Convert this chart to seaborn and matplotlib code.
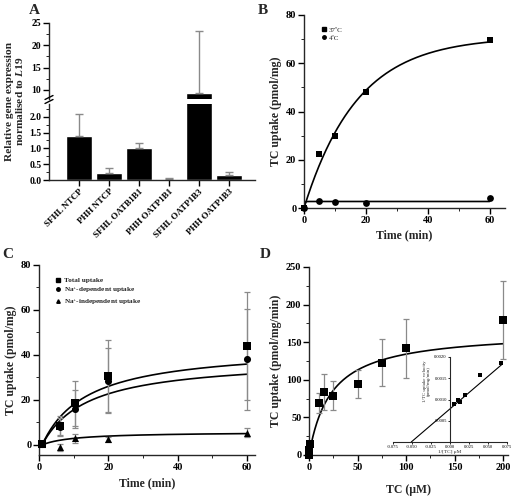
import numpy as np
import matplotlib
matplotlib.use("Agg")
import matplotlib.pyplot as plt
from matplotlib.lines import Line2D
from matplotlib.ticker import MultipleLocator
import seaborn as sns

# ---- data ----
# panel A
genes = ["SFHL NTCP", "PHH NTCP", "SFHL OATB1B1", "PHH OATP1B1", "SFHL OATP1B3", "PHH OATP1B3"]
expr = [1.40, 0.22, 1.02, 0.04, 9.4, 0.15]
expr_top = [2.10, 0.38, 1.17, 0.07, 23.2, 0.25]

# panel B
time_b = [0, 5, 10, 20, 60]
uptake_37 = [0, 22.5, 30.0, 48.0, 69.5]
uptake_4 = [0, 3.0, 2.5, 2.0, 4.0]
fit_37 = (71.0, 0.058)   # plateau, rate
fit_4 = (2.7, 5.0)

# panel C
time_c = [1, 6, 10.5, 20, 60]
total = [0.5, 8.5, 18.5, 30.5, 44.0]
total_err = [0.5, 4.5, 10.0, 16.0, 24.0]
na_dep = [0.3, 8.0, 16.0, 28.5, 38.0]
na_dep_err = [0.5, 3.8, 8.5, 14.5, 22.5]
na_indep = [0.2, -1.0, 3.0, 2.5, 5.5]
na_indep_err = [0.3, 1.5, 2.0, 1.2, 2.0]
fit_total = (43.9, 13.1)   # Vmax, K
fit_dep = (38.5, 13.3)
fit_indep = (5.8, 9.2)

# panel D
conc = [0.1, 0.5, 1, 10, 15, 25, 50, 75, 100, 200]
rate = [0, 6, 15, 69, 84, 79, 94, 123, 142, 180]
rate_lo = [0, 0, 0, 56, 60, 60, 76, 92, 103, 127]
rate_hi = [0, 0, 0, 83, 108, 99, 113, 154, 181, 232]
mm_fit = (165.0, 23.0)

# inset (Lineweaver-Burk)
inv_conc = [0.005, 0.010, 0.013, 0.020, 0.040, 0.067]
inv_rate = [0.00090, 0.00100, 0.00095, 0.00110, 0.00157, 0.00185]
lb_fit = (0.0153, 0.00078)   # slope, intercept

# ---- style ----
sns.set_style("ticks")
plt.rcParams["font.family"] = ["Liberation Serif", "DejaVu Serif"]
plt.rcParams["font.weight"] = "bold"
plt.rcParams["axes.labelweight"] = "bold"
plt.rcParams["mathtext.fontset"] = "custom"
plt.rcParams["mathtext.rm"] = "Liberation Serif:bold"
plt.rcParams["mathtext.it"] = "Liberation Serif:italic:bold"
plt.rcParams["axes.linewidth"] = 1.0
plt.rcParams["xtick.major.width"] = 1.0
plt.rcParams["ytick.major.width"] = 1.0
plt.rcParams["xtick.major.size"] = 4
plt.rcParams["ytick.major.size"] = 4
plt.rcParams["xtick.minor.size"] = 2
plt.rcParams["ytick.minor.size"] = 2
plt.rcParams["xtick.color"] = "black"
plt.rcParams["ytick.color"] = "black"

W, H = 511, 496
fig = plt.figure(figsize=(W / 100, H / 100), dpi=100)


def rect(l, t, r, b):
    return [l / W, 1 - b / H, (r - l) / W, (b - t) / H]


TICK = 7.5
LAB = 8.5
GREY = "#8a8a8a"


def style(ax, size=TICK):
    sns.despine(ax=ax)
    ax.tick_params(labelsize=size, pad=1.5)
    for t in ax.get_xticklabels() + ax.get_yticklabels():
        t.set_fontweight("bold")


# ---------------- A ----------------
axA_hi = fig.add_axes(rect(49, 23, 255, 98.8))
axA_lo = fig.add_axes(rect(49, 104, 255, 180))
xpos = np.arange(len(genes))
for ax in (axA_hi, axA_lo):
    sns.barplot(x=xpos, y=expr, color="black", width=0.85, errorbar=None,
                native_scale=True, ax=ax, saturation=1)
    ax.errorbar(xpos, expr, yerr=[np.zeros(len(expr)), np.array(expr_top) - np.array(expr)],
                fmt="none", ecolor=GREY, elinewidth=1.0, capsize=3, capthick=1.0)
    ax.set_xlim(-1.0, 5.87)
axA_hi.set_ylim(8, 25)
axA_hi.set_yticks([10, 15, 20, 25])
axA_hi.yaxis.set_minor_locator(MultipleLocator(2.5))
axA_hi.set_xticks([])
axA_lo.set_ylim(0, 2.4)
axA_lo.set_yticks([0, 0.5, 1.0, 1.5, 2.0])
axA_lo.set_yticklabels(["0.0", "0.5", "1.0", "1.5", "2.0"])
axA_lo.yaxis.set_minor_locator(MultipleLocator(0.25))
axA_lo.set_xticks(xpos)
axA_lo.set_xticklabels(genes, rotation=45, ha="right", rotation_mode="anchor")
style(axA_hi, 7)
sns.despine(ax=axA_hi, bottom=True)
style(axA_lo, 7)
for t in axA_lo.get_xticklabels():
    t.set_fontsize(6.5)
# break marks
for yy in (97.5, 101.5):
    fig.add_artist(Line2D([45 / W, 53 / W], [1 - (yy + 2) / H, 1 - (yy - 2) / H],
                          color="black", lw=1.0))
fig.text(15 / W, 1 - 101 / H, "Relative gene expression\nnormalised to $\\mathit{L19}$",
         rotation=90, ha="center", va="center", fontsize=8.2, fontweight="bold",
         linespacing=1.05)
fig.text(34 / W, 1 - 10 / H, "A", fontsize=11, fontweight="bold", ha="center", va="center")

# ---------------- B ----------------
axB = fig.add_axes(rect(304, 15, 505, 208))
tt = np.linspace(0, 60, 200)
sns.lineplot(x=tt, y=fit_37[0] * (1 - np.exp(-fit_37[1] * tt)), color="black", lw=1.2, ax=axB)
sns.lineplot(x=tt, y=fit_4[0] * (1 - np.exp(-fit_4[1] * tt)), color="black", lw=1.2, ax=axB)
sns.scatterplot(x=time_b, y=uptake_37, marker="s", color="black", s=22, linewidth=0,
                ax=axB, clip_on=False, zorder=5)
sns.scatterplot(x=time_b, y=uptake_4, marker="o", color="black", s=24, linewidth=0,
                ax=axB, clip_on=False, zorder=5)
axB.set_xlim(0, 65)
axB.set_ylim(0, 80)
axB.set_xticks([0, 20, 40, 60])
axB.set_yticks([0, 20, 40, 60, 80])
axB.xaxis.set_minor_locator(MultipleLocator(10))
axB.yaxis.set_minor_locator(MultipleLocator(10))
axB.set_xlabel("Time (min)", fontsize=LAB, labelpad=3)
axB.set_ylabel("TC uptake (pmol/mg)", fontsize=LAB, labelpad=3)
style(axB)
hB = [Line2D([], [], marker="s", color="black", ls="", ms=2.5),
      Line2D([], [], marker="o", color="black", ls="", ms=2.5)]
axB.legend(hB, ["37ºC", "4ºC"], loc="upper left", bbox_to_anchor=(0.05, 0.97),
           frameon=False, prop={"size": 5, "weight": "normal"}, handletextpad=0.2,
           labelspacing=0.3, handlelength=1.0)
fig.text(263 / W, 1 - 10 / H, "B", fontsize=11, fontweight="bold", ha="center", va="center")

# ---------------- C ----------------
axC = fig.add_axes(rect(39, 265, 255, 455))
tc = np.linspace(1, 60, 200)
for vm, k in (fit_total, fit_dep, fit_indep):
    sns.lineplot(x=tc, y=vm * (tc - 0.9) / (k + tc - 0.9), color="black", lw=1.2, ax=axC)
for yv, ye, mk in ((total, total_err, "s"), (na_dep, na_dep_err, "o"), (na_indep, na_indep_err, "^")):
    axC.errorbar(time_c, yv, yerr=ye, fmt="none", ecolor=GREY, elinewidth=0.9,
                 capsize=2.5, capthick=0.9)
    sns.scatterplot(x=time_c, y=yv, marker=mk, color="black", s=26, linewidth=0,
                    ax=axC, clip_on=False, zorder=5)
axC.set_xlim(0, 62.3)
axC.set_ylim(-4.5, 80)
axC.set_xticks([0, 20, 40, 60])
axC.set_yticks([0, 20, 40, 60, 80])
axC.xaxis.set_minor_locator(MultipleLocator(10))
axC.yaxis.set_minor_locator(MultipleLocator(10))
axC.set_xlabel("Time (min)", fontsize=LAB, labelpad=4)
axC.set_ylabel("TC uptake (pmol/mg)", fontsize=LAB, labelpad=3)
style(axC)
hC = [Line2D([], [], marker=m, color="black", ls="", ms=2.5) for m in ("s", "o", "^")]
axC.legend(hC, ["Total uptake", "Na$^{+}$-dependent uptake", "Na$^{+}$-independent uptake"],
           loc="upper left", bbox_to_anchor=(0.04, 0.97), frameon=False,
           prop={"size": 5.2, "weight": "bold"}, handletextpad=0.4,
           labelspacing=0.25, handlelength=1.0)
fig.text(8 / W, 1 - 254 / H, "C", fontsize=11, fontweight="bold", ha="center", va="center")

# ---------------- D ----------------
axD = fig.add_axes(rect(309, 267, 508, 455))
sd = np.linspace(0, 200, 300)
sns.lineplot(x=sd, y=mm_fit[0] * sd / (mm_fit[1] + sd), color="black", lw=1.2, ax=axD)
err_d = [np.array(rate) - np.array(rate_lo), np.array(rate_hi) - np.array(rate)]
err_d = [np.where(np.array(rate_lo) == 0, 0, e) for e in err_d]
axD.errorbar(conc, rate, yerr=err_d, fmt="none", ecolor=GREY, elinewidth=0.9,
             capsize=2.5, capthick=0.9)
sns.scatterplot(x=conc, y=rate, marker="s", color="black", s=26, linewidth=0,
                ax=axD, clip_on=False, zorder=5)
axD.set_xlim(0, 205)
axD.set_ylim(0, 250)
axD.set_xticks([0, 50, 100, 150, 200])
axD.set_yticks([0, 50, 100, 150, 200, 250])
axD.xaxis.set_minor_locator(MultipleLocator(25))
axD.yaxis.set_minor_locator(MultipleLocator(25))
axD.set_xlabel("TC (\u03bcM)", fontsize=LAB, labelpad=9)
axD.set_ylabel("TC uptake (pmol/mg/min)", fontsize=LAB, labelpad=3)
style(axD)
fig.text(265 / W, 1 - 254 / H, "D", fontsize=11, fontweight="bold", ha="center", va="center")

# inset
axI = fig.add_axes(rect(393, 357, 507, 442))
axI.patch.set_alpha(0)
xl = np.linspace(-lb_fit[1] / lb_fit[0], 0.068, 50)
sns.lineplot(x=xl, y=lb_fit[0] * xl + lb_fit[1], color="black", lw=0.8, ax=axI)
sns.scatterplot(x=inv_conc, y=inv_rate, marker="s", color="black", s=5, linewidth=0, ax=axI)
axI.set_xlim(-0.075, 0.075)
axI.set_ylim(0, 0.002)
axI.spines["left"].set_position(("data", 0))
sns.despine(ax=axI)
axI.set_xticks([-0.075, -0.05, -0.025, 0, 0.025, 0.05, 0.075])
axI.set_xticklabels(["-0.075", "-0.050", "-0.025", "0.000", "0.025", "0.050", "0.075"])
axI.set_yticks([0.0005, 0.0010, 0.0015, 0.0020])
axI.set_yticklabels(["0.0005", "0.0010", "0.0015", "0.0020"])
axI.tick_params(labelsize=3.3, length=1.5, width=0.6, pad=0.8)
for t in axI.get_xticklabels() + axI.get_yticklabels():
    t.set_fontweight("normal")
for s in axI.spines.values():
    s.set_linewidth(0.8)
axI.set_xlabel("1/[TC] \u03bcM", fontsize=3.8, fontweight="normal", labelpad=0.5)
axI.set_ylabel("1/TC uptake velocity\n(pmol/mg/min)", fontsize=3.5, fontweight="normal",
               linespacing=1.0)
axI.yaxis.set_label_coords(0.33, 0.72)

fig.savefig("out.png", dpi=100)
